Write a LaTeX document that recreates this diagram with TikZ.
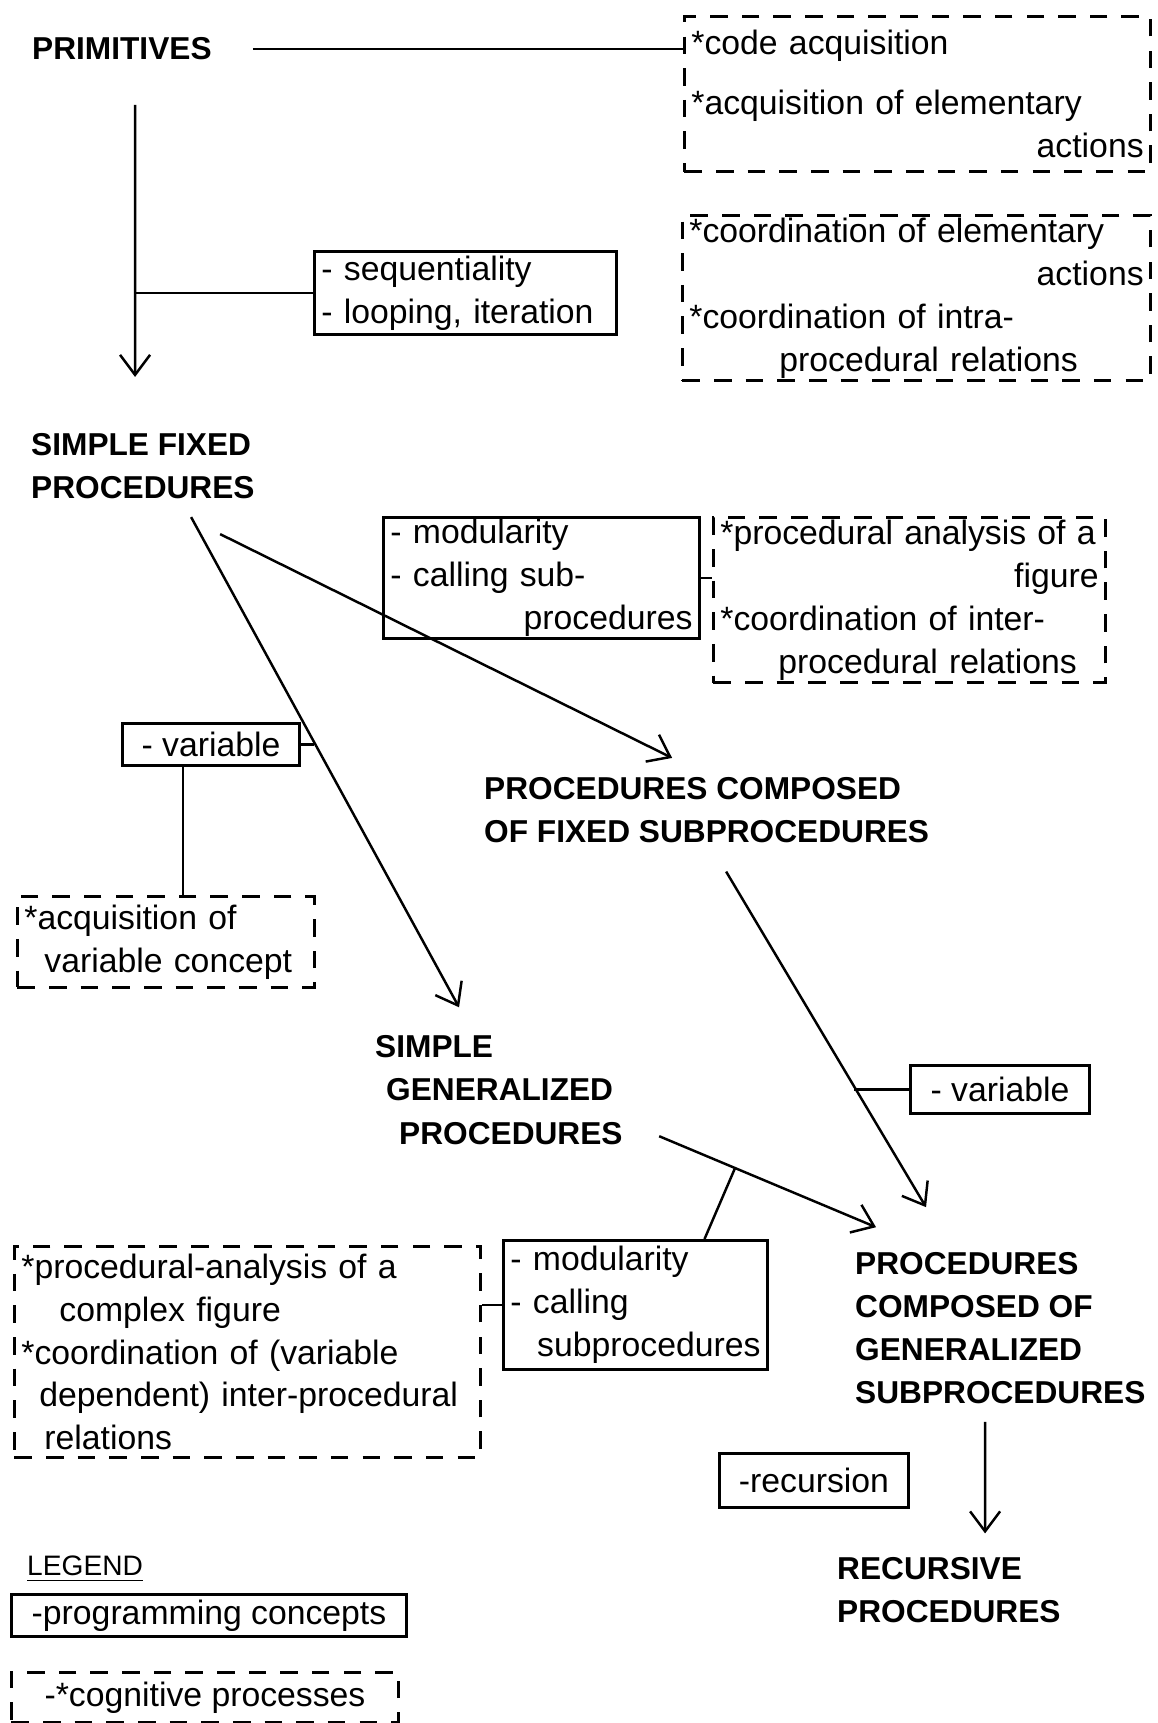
\documentclass[tikz,border=0pt]{standalone}
\usepackage{fontspec}
\setmainfont{Liberation Sans}
\usetikzlibrary{arrows.meta}
\tikzstyle{concept} = [rectangle, draw, line width=0.8pt, anchor=north west, inner xsep=0.07cm, inner ysep=0.5pt, align=left, font=\fontsize{9.6}{12.2}\selectfont]
\tikzstyle{cognitive} = [concept, dash pattern=on 5pt off 4pt]
\tikzstyle{level} = [anchor=west, inner sep=0pt, align=left, font=\bfseries\fontsize{9}{12.3}\selectfont]

\begin{document}
\begin{tikzpicture}[x=0.01cm, y=-0.01cm, line width=0.7pt, >={Straight Barb[length=2mm,width=3mm]}]
   \useasboundingbox (0,0) rectangle (1158,1723);
   % nodes
   \node[level] (prim) at (31,49)    {PRIMITIVES};
   \node[level] (sfp)  at (30,466)   {SIMPLE FIXED\\PROCEDURES};
   \node[level] (pcf)  at (483,810)  {PROCEDURES COMPOSED\\OF FIXED SUBPROCEDURES};
   \node[level] (sgp)  at (374,1090) {SIMPLE\\\hspace*{0.11cm}GENERALIZED\\\hspace*{0.24cm}PROCEDURES};
   \node[level] (pcg)  at (854,1328) {PROCEDURES\\COMPOSED OF\\GENERALIZED\\SUBPROCEDURES};
   \node[level] (rec)  at (836,1590) {RECURSIVE\\PROCEDURES};

   \node[cognitive, text width=4.52cm, minimum height=1.55cm] (cogPrim) at (683,15)
      {*code acquisition\\[4.8pt]{}*acquisition of elementary\\\hspace*{\fill}actions};
   \node[cognitive, text width=4.54cm, minimum height=1.65cm] (cogCoord) at (681,214)
      {*coordination of elementary\\\hspace*{\fill}actions\\{}*coordination of intra-\\\hspace*{0.9cm}procedural relations};
   \node[concept, text width=2.88cm, minimum height=0.83cm] (conSeq) at (313,250)
      {- sequentiality\\- looping, iteration};
   \node[concept, text width=3.02cm, minimum height=1.16cm] (conModA) at (382,516)
      {- modularity\\- calling sub-\\\hspace*{\fill}procedures};
   \node[cognitive, text width=3.78cm, minimum height=1.65cm] (cogModA) at (712,516)
      {*procedural analysis of a\\\hspace*{\fill}figure\\{}*coordination of inter-\\\hspace*{0.58cm}procedural relations};
   \node[concept, minimum width=1.77cm, minimum height=0.42cm] (conVarA) at (121,722) {- variable};
   \node[cognitive, text width=2.83cm, minimum height=0.91cm] (cogVar) at (16,895)
      {*acquisition of\\\hspace*{0.2cm}variable concept};
   \node[concept, minimum width=1.79cm, minimum height=0.48cm] (conVarB) at (909,1064) {- variable};
   \node[concept, text width=2.50cm, minimum height=1.29cm] (conModB) at (502,1239)
      {- modularity\\- calling\\\hspace*{\fill}subprocedures};
   \node[cognitive, text width=4.52cm, minimum height=2.11cm] (cogModB) at (13,1245)
      {*procedural-analysis of a\\\hspace*{0.38cm}complex figure\\{}*coordination of (variable\\\hspace*{0.18cm}dependent) inter-procedural\\\hspace*{0.23cm}relations};
   \node[concept, minimum width=1.89cm, minimum height=0.54cm] (conRec) at (718,1452) {-recursion};

   % legend
   \node[anchor=west, inner sep=0pt, font=\fontsize{8}{10}\selectfont] (legend) at (26,1569) {\underline{LEGEND}};
   \node[concept, minimum width=3.95cm, minimum height=0.42cm] (legCon) at (10,1593) {-programming concepts};
   \node[cognitive, minimum width=3.87cm, minimum height=0.50cm] (legCog) at (10,1671) {-*cognitive processes};

   % edges
   \draw ([xshift=0.4cm]prim.east) -- (prim.east -| cogPrim.west);
   \draw[->] ([xshift=1.04cm,yshift=-0.435cm]prim.south west) -- ([xshift=1.05cm,yshift=0.55cm]sfp.north west) coordinate[pos=0.65] (seqJ);
   \draw (conSeq.west) -- (conSeq.west -| seqJ);
   \draw[->] ([xshift=1.61cm,yshift=-0.17cm]sfp.south west) -- ([xshift=0.85cm,yshift=0.27cm]sgp.north west) coordinate[pos=0.46] (varJA);
   \draw (conVarA.east) -- (conVarA.east -| varJA);
   \draw ([xshift=-0.28cm]conVarA.south) -- ([xshift=-0.28cm]conVarA.south |- cogVar.north);
   \draw[->] ([xshift=1.90cm,yshift=-0.34cm]sfp.south west) -- ([xshift=1.89cm,yshift=0.18cm]pcf.north west);
   \draw (conModA.east) -- (conModA.east -| cogModA.west);
   \draw[->] ([xshift=2.43cm,yshift=-0.275cm]pcf.south west) -- ([xshift=0.72cm,yshift=0.435cm]pcg.north west) coordinate[pos=0.642] (varJB);
   \draw (conVarB.west) -- (conVarB.west -| varJB);
   \draw[->] ([xshift=2.85cm,yshift=0.095cm]sgp.south west) -- ([xshift=0.22cm,yshift=0.235cm]pcg.north west) coordinate[pos=0.35] (modJ);
   \draw (modJ) -- ([xshift=0.69cm]conModB.north);
   \draw (conModB.west) -- (conModB.west -| cogModB.east);
   \draw[->] ([xshift=1.31cm,yshift=-0.165cm]pcg.south west) -- ([xshift=1.49cm,yshift=0.225cm]rec.north west);
\end{tikzpicture}
\end{document}
